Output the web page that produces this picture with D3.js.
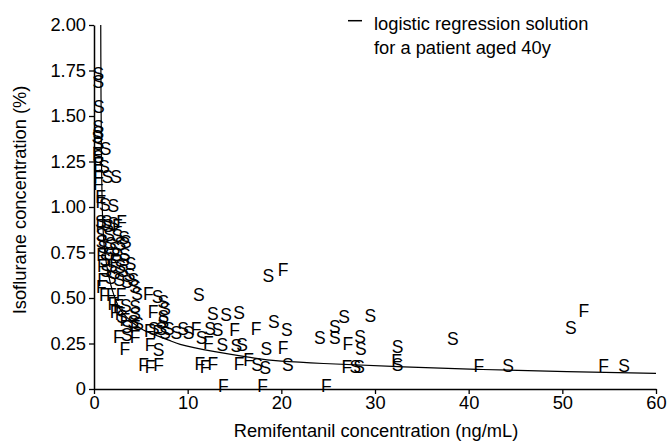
<!DOCTYPE html>
<html>
<head>
<meta charset="utf-8">
<script src="https://cdn.jsdelivr.net/npm/d3@7"></script>
<style>
  html, body { margin: 0; padding: 0; background: #fff; }
  svg text { font-family: "Liberation Sans", Arial, Helvetica, sans-serif; fill: #000; }
</style>
</head>
<body>
<svg id="chart" width="668" height="441"></svg>
<script>
// ---- data ----
const xTicks = [0, 10, 20, 30, 40, 50, 60];
const yTicks = [0, 0.25, 0.5, 0.75, 1.0, 1.25, 1.5, 1.75, 2.0];
const yTickLabels = ["0", "0.25", "0.50", "0.75", "1.00", "1.25", "1.50", "1.75", "2.00"];

// logistic regression solution curve
const curveX = [0.72, 0.75, 0.8, 0.86, 0.95, 1.1, 1.5, 2.1, 2.96, 4.0, 5.27, 7.9, 9.2, 12.9, 16.3, 20.0, 24.5, 32.5, 40.9, 50.5, 60];
const curveY = [2.0, 1.6, 1.25, 1.05, 0.9, 0.78, 0.64, 0.52, 0.425, 0.37, 0.324, 0.27, 0.245, 0.205, 0.177, 0.153, 0.14, 0.123, 0.108, 0.095, 0.086];

// "S" observations
const sX = [0.46, 0.46, 0.53, 0.46, 0.46, 0.35, 0.46, 1.25, 0.46, 1.07, 1.42, 2.35,
  1.17, 2.06, 0.72, 1.35, 2.06, 1.5,
  0.8, 1.6, 2.5, 3.2, 0.8, 1.8, 2.8, 3.4, 1.0, 2.2,
  1.6, 2.4, 3.3, 1.2, 3.2, 3.9, 1.9, 2.8,
  1.3, 2.2, 3.1, 3.8, 1.8, 2.7, 4.2, 3.5, 4.4,
  4.6, 6.8, 7.4, 7.6, 3.4, 4.4, 4.4, 7.4, 7.4, 4.2, 4.7, 3.0, 3.5,
  6.4, 7.2, 7.6, 8.0, 8.8, 9.5, 10.1,
  3.5, 6.9,
  11.2, 12.7, 14.1, 15.5, 19.2, 20.6, 12.4, 13.2, 11.5, 13.7, 15.2, 15.8, 18.4, 17.4, 18.3, 20.7, 18.6,
  24.1, 25.7, 25.7, 26.7, 29.5, 28.4, 28.5, 27.9, 28.3, 32.4, 32.4,
  38.3, 44.2, 50.9, 56.6];
const sY = [1.735, 1.69, 1.55, 1.44, 1.41, 1.386, 1.35, 1.32, 1.276, 1.22, 1.167, 1.167,
  1.01, 1.005, 0.92, 0.92, 0.91, 0.895,
  0.85, 0.85, 0.84, 0.83, 0.81, 0.80, 0.80, 0.81, 0.78, 0.77,
  0.745, 0.74, 0.74, 0.71, 0.71, 0.69, 0.68, 0.67,
  0.65, 0.64, 0.65, 0.63, 0.61, 0.60, 0.60, 0.59, 0.56,
  0.526, 0.507, 0.48, 0.443, 0.46, 0.45, 0.416, 0.40, 0.37, 0.37, 0.36, 0.40, 0.342,
  0.33, 0.33, 0.31, 0.33, 0.31, 0.33, 0.31,
  0.297, 0.214,
  0.52, 0.416, 0.41, 0.42, 0.37, 0.324, 0.33, 0.324, 0.28, 0.245, 0.238, 0.245, 0.224, 0.132, 0.117, 0.132, 0.62,
  0.28, 0.28, 0.342, 0.40, 0.405, 0.287, 0.22, 0.122, 0.122, 0.232, 0.132,
  0.278, 0.126, 0.335, 0.126];

// "F" observations
const fX = [0.35, 0.46, 0.46, 0.46, 0.46, 0.7, 0.72,
  2.96, 0.72, 2.5, 0.8, 2.2, 0.9, 0.93, 0.78,
  1.1, 1.85, 2.9, 5.8, 6.3, 2.0, 2.6, 2.24, 2.78, 3.3, 4.4, 5.9, 6.8, 10.9, 2.6, 4.4, 3.3, 6.0, 5.3, 6.0, 6.9,
  12.2, 15.0, 17.3, 20.2, 11.3, 11.85, 12.7, 15.5, 16.5, 13.8, 18.0, 20.2,
  27.1, 27.0, 32.3, 24.8, 41.1, 52.3, 54.4];
const fY = [1.295, 1.24, 1.20, 1.167, 1.13, 1.057, 1.03,
  0.92, 0.90, 0.90, 0.74, 0.70, 0.68, 0.60, 0.56,
  0.516, 0.516, 0.516, 0.526, 0.425, 0.47, 0.46, 0.425, 0.416, 0.38, 0.342, 0.32, 0.315, 0.33, 0.287, 0.287, 0.224, 0.242, 0.132, 0.122, 0.132,
  0.256, 0.324, 0.33, 0.227, 0.141, 0.122, 0.141, 0.141, 0.163, 0.02, 0.02, 0.654,
  0.25, 0.122, 0.154, 0.02, 0.126, 0.43, 0.126];

const legendLines = ["logistic regression solution", "for a patient aged 40y"];
const xTitle = "Remifentanil concentration (ng/mL)";
const yTitle = "Isoflurane concentration (%)";

// ---- drawing ----
const svg = d3.select("#chart");
const FONT = 18.3;

const x = d3.scaleLinear().domain([0, 60]).range([94, 656]);
const y = d3.scaleLinear().domain([0, 2]).range([389, 25]);

// axes
const xAxis = d3.axisBottom(x).tickValues(xTicks).tickFormat(d3.format("d"))
  .tickSizeInner(5).tickSizeOuter(0).tickPadding(2);
const yAxis = d3.axisLeft(y).tickValues(yTicks).tickFormat((d, i) => yTickLabels[i])
  .tickSizeInner(5).tickSizeOuter(0).tickPadding(3);

const gx = svg.append("g").attr("transform", `translate(0,${y(0)})`).call(xAxis);
const gy = svg.append("g").attr("transform", `translate(${x(0)},0)`).call(yAxis);
[gx, gy].forEach(g => {
  g.select(".domain").attr("stroke", "#000").attr("stroke-width", 1.5);
  g.selectAll(".tick line").attr("stroke", "#000").attr("stroke-width", 1.3);
  g.selectAll(".tick text").attr("font-size", FONT)
    .attr("font-family", '"Liberation Sans", Arial, sans-serif').attr("fill", "#000");
});

// curve
const curvePts = curveX.map((d, i) => [d, curveY[i]]);
svg.append("path")
  .datum(curvePts)
  .attr("fill", "none")
  .attr("stroke", "#000")
  .attr("stroke-width", 1.2)
  .attr("d", d3.line().x(d => x(d[0])).y(d => y(d[1])).curve(d3.curveMonotoneY));

// letters
const pts = sX.map((d, i) => ({ x: d, y: sY[i], t: "S" }))
  .concat(fX.map((d, i) => ({ x: d, y: fY[i], t: "F" })));
svg.append("g").selectAll("text")
  .data(pts).enter().append("text")
  .attr("x", d => x(d.x))
  .attr("y", d => y(d.y))
  .attr("dy", "0.36em")
  .attr("text-anchor", "middle")
  .attr("font-size", 17.5)
  .text(d => d.t);

// legend
svg.append("line").attr("x1", 348).attr("x2", 362).attr("y1", 20.7).attr("y2", 20.7)
  .attr("stroke", "#000").attr("stroke-width", 1.5);
svg.append("g").selectAll("text").data(legendLines).enter().append("text")
  .attr("x", 374).attr("y", (d, i) => 30 + i * 23.5)
  .attr("font-size", FONT).text(d => d);

// titles
svg.append("text").attr("x", 376).attr("y", 437).attr("text-anchor", "middle")
  .attr("font-size", FONT).text(xTitle);
svg.append("text").attr("transform", "translate(26,200) rotate(-90)")
  .attr("text-anchor", "middle").attr("font-size", FONT).text(yTitle);
</script>
</body>
</html>
